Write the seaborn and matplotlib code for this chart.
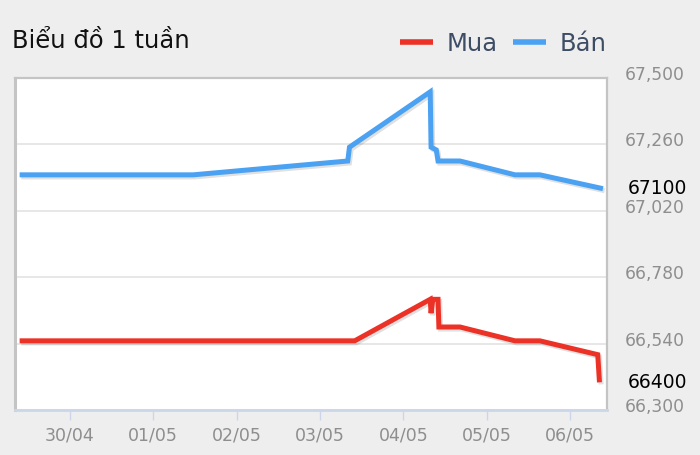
import matplotlib
matplotlib.use("Agg")
import matplotlib.pyplot as plt
import matplotlib.dates as mdates
import matplotlib.patheffects as pe
import matplotlib.transforms as mtrans
import seaborn as sns
import pandas as pd

# ---- data ----
title = "Biểu đồ 1 tuần"
series_names = ["Mua", "Bán"]

mua_times = ["2024-04-29 09:30", "2024-05-03 10:00", "2024-05-04 07:45",
             "2024-05-04 08:00", "2024-05-04 08:30", "2024-05-04 10:00",
             "2024-05-04 10:15", "2024-05-04 16:20", "2024-05-05 08:10",
             "2024-05-05 15:20", "2024-05-06 08:00", "2024-05-06 08:30"]
mua_values = [66550, 66550, 66700, 66650, 66700, 66700,
              66600, 66600, 66550, 66550, 66500, 66400]

ban_times = ["2024-04-29 09:30", "2024-05-01 11:30", "2024-05-03 08:00",
             "2024-05-03 08:30", "2024-05-04 07:45", "2024-05-04 08:00",
             "2024-05-04 09:30", "2024-05-04 10:00", "2024-05-04 16:20",
             "2024-05-05 08:10", "2024-05-05 15:20", "2024-05-06 09:30"]
ban_values = [67150, 67150, 67200, 67250, 67450, 67250,
              67240, 67200, 67200, 67150, 67150, 67100]

y_ticks = [66300, 66540, 66780, 67020, 67260, 67500]
x_start = "2024-04-29 08:10"
x_end = "2024-05-06 10:40"

colors = {"Mua": "#ec3226", "Bán": "#4ba1f2"}

df = pd.concat([
    pd.DataFrame({"time": pd.to_datetime(mua_times), "value": mua_values, "series": "Mua"}),
    pd.DataFrame({"time": pd.to_datetime(ban_times), "value": ban_values, "series": "Bán"}),
], ignore_index=True)

# ---- figure ----
sns.set_style("white")
plt.rcParams["font.family"] = ["DejaVu Sans"]

W, H = 700, 455
fig = plt.figure(figsize=(W / 100, H / 100), dpi=100, facecolor="#eeeeee")
ax = fig.add_axes([15 / W, 1 - 410 / H, (607 - 15) / W, (410 - 78) / H])
ax.set_facecolor("white")

sns.lineplot(data=df, x="time", y="value", hue="series", hue_order=series_names,
             palette=colors, linewidth=3.6, estimator=None, sort=False, ax=ax,
             legend=True)

for line in ax.get_lines():
    line.set_solid_joinstyle("miter")
    line.set_solid_capstyle("butt")
    line.set_path_effects([pe.SimpleLineShadow(offset=(1.2, -1.5), shadow_color="black", alpha=0.12),
                           pe.Normal()])

ax.set_ylim(y_ticks[0], y_ticks[-1])
ax.set_xlim(pd.Timestamp(x_start), pd.Timestamp(x_end))
ax.set_yticks(y_ticks)
ax.yaxis.tick_right()
ax.set_yticklabels([f"{v:,}" for v in y_ticks])
ax.tick_params(axis="y", length=0, pad=13, labelsize=12.3, labelcolor="#8e8e8e")
off = mtrans.ScaledTranslation(0, 5 / 100, fig.dpi_scale_trans)
for lab in ax.get_yticklabels():
    lab.set_transform(lab.get_transform() + off)

ax.xaxis.set_major_locator(mdates.DayLocator())
ax.xaxis.set_major_formatter(mdates.DateFormatter("%d/%m"))
ax.tick_params(axis="x", direction="out", length=7, width=1, color="#ccd6eb",
               pad=5, labelsize=12.5, labelcolor="#8e8e8e", bottom=True)

ax.grid(axis="y", color="#e3e3e3", linewidth=1.2)
ax.grid(axis="x", visible=False)
ax.set_xlabel("")
ax.set_ylabel("")

for side in ["top", "left", "right"]:
    ax.spines[side].set_color("#c4c4c4")
    ax.spines[side].set_linewidth(1.6)
ax.spines["left"].set_linewidth(2.2)
ax.spines["bottom"].set_color("#ccd6eb")
ax.spines["bottom"].set_linewidth(2)

# last-value labels
for vals in [ban_values, mua_values]:
    ax.annotate(f"{vals[-1]}", xy=(1, vals[-1]), xycoords=("axes fraction", "data"),
                xytext=(15, 0), textcoords="offset points", ha="left", va="center",
                fontsize=13.5, color="black")

# legend
handles, labels = ax.get_legend_handles_labels()
ax.legend(handles, labels, loc="center right", bbox_to_anchor=(616 / W, 1 - 44 / H),
          bbox_transform=fig.transFigure, ncol=2, frameon=False, fontsize=17.5,
          handlelength=1.35, handletextpad=0.55, columnspacing=0.65,
          labelcolor="#3d4d65", borderaxespad=0)
for h in ax.get_legend().get_lines():
    h.set_linewidth(4)
    h.set_path_effects([])

fig.text(12 / W, 1 - 48 / H, title, fontsize=17.5, color="#111111", ha="left", va="baseline")

fig.savefig("out.png", dpi=100, facecolor=fig.get_facecolor())
